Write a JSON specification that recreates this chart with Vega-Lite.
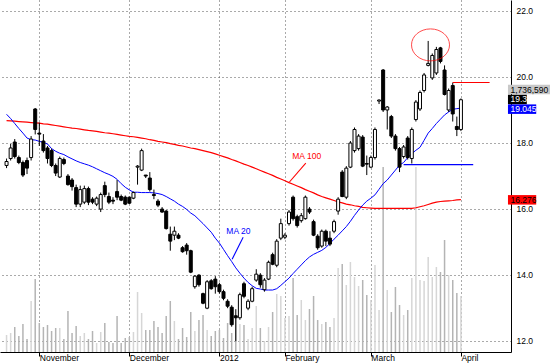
{
"$schema": "https://vega.github.io/schema/vega-lite/v6.json",
"width": 511, "height": 352,
"autosize": {"type": "none"},
"padding": {"left": 0, "top": 0, "right": 39, "bottom": 12},
"background": "white",
"config": {"view": {"stroke": null}, "font": "Liberation Sans"},
"datasets": {
"bars": [
{"i":-8,"o":17.31,"h":17.52,"l":17.23,"c":17.43,"v":527000,"m20":18.86,"m100":18.67},
{"i":-7,"o":17.52,"h":17.96,"l":17.46,"c":17.84,"v":589000,"m20":18.73,"m100":18.66},
{"i":-6,"o":18.02,"h":18.11,"l":17.52,"c":17.58,"v":775000,"m20":18.58,"m100":18.65},
{"i":-5,"o":17.55,"h":17.61,"l":17.35,"c":17.40,"v":496000,"m20":18.43,"m100":18.64},
{"i":-4,"o":17.40,"h":17.46,"l":16.96,"c":17.02,"v":868000,"m20":18.29,"m100":18.63},
{"i":-3,"o":17.46,"h":17.55,"l":17.05,"c":17.23,"v":403000,"m20":18.14,"m100":18.62},
{"i":-2,"o":17.55,"h":18.20,"l":17.46,"c":18.11,"v":1582000,"m20":18.09,"m100":18.61},
{"i":-1,"o":19.02,"h":19.05,"l":18.25,"c":18.40,"v":2264000,"m20":18.08,"m100":18.60},
{"i":0,"o":18.29,"h":18.61,"l":17.90,"c":18.26,"v":899000,"m20":18.04,"m100":18.59},
{"i":1,"o":18.05,"h":18.26,"l":17.70,"c":17.76,"v":775000,"m20":18.01,"m100":18.57},
{"i":2,"o":17.84,"h":17.90,"l":17.37,"c":17.52,"v":837000,"m20":17.96,"m100":18.56},
{"i":3,"o":17.76,"h":17.82,"l":17.26,"c":17.31,"v":651000,"m20":17.82,"m100":18.54},
{"i":4,"o":17.31,"h":17.37,"l":16.99,"c":17.08,"v":744000,"m20":17.74,"m100":18.52},
{"i":5,"o":16.96,"h":17.58,"l":16.93,"c":17.52,"v":744000,"m20":17.68,"m100":18.50},
{"i":6,"o":17.49,"h":17.55,"l":17.32,"c":17.37,"v":403000,"m20":17.64,"m100":18.48},
{"i":7,"o":16.99,"h":17.05,"l":16.70,"c":16.73,"v":1271000,"m20":17.57,"m100":18.46},
{"i":8,"o":16.87,"h":16.93,"l":16.55,"c":16.67,"v":589000,"m20":17.51,"m100":18.44},
{"i":9,"o":16.64,"h":16.73,"l":16.05,"c":16.14,"v":806000,"m20":17.45,"m100":18.43},
{"i":10,"o":16.14,"h":16.70,"l":16.05,"c":16.58,"v":496000,"m20":17.40,"m100":18.41},
{"i":11,"o":16.20,"h":16.70,"l":16.14,"c":16.61,"v":589000,"m20":17.36,"m100":18.39},
{"i":12,"o":16.61,"h":16.67,"l":16.11,"c":16.20,"v":403000,"m20":17.32,"m100":18.37},
{"i":13,"o":16.29,"h":16.35,"l":16.14,"c":16.20,"v":651000,"m20":17.27,"m100":18.36},
{"i":14,"o":16.14,"h":16.37,"l":16.08,"c":16.32,"v":279000,"m20":17.21,"m100":18.34},
{"i":15,"o":15.99,"h":16.49,"l":15.90,"c":16.43,"v":620000,"m20":17.15,"m100":18.32},
{"i":16,"o":16.70,"h":16.82,"l":16.35,"c":16.43,"v":899000,"m20":17.09,"m100":18.30},
{"i":17,"o":16.37,"h":16.49,"l":16.14,"c":16.20,"v":310000,"m20":17.04,"m100":18.29},
{"i":18,"o":16.26,"h":16.35,"l":16.14,"c":16.23,"v":279000,"m20":16.98,"m100":18.27},
{"i":19,"o":16.52,"h":16.87,"l":16.26,"c":16.35,"v":1116000,"m20":16.89,"m100":18.25},
{"i":20,"o":16.37,"h":16.43,"l":16.23,"c":16.26,"v":279000,"m20":16.76,"m100":18.23},
{"i":21,"o":16.35,"h":16.40,"l":16.11,"c":16.14,"v":434000,"m20":16.65,"m100":18.21},
{"i":22,"o":16.35,"h":16.37,"l":16.14,"c":16.17,"v":465000,"m20":16.57,"m100":18.19},
{"i":23,"o":16.32,"h":16.52,"l":16.29,"c":16.49,"v":620000,"m20":16.50,"m100":18.18},
{"i":24,"o":17.26,"h":17.32,"l":16.73,"c":17.29,"v":1861000,"m20":16.50,"m100":18.16},
{"i":25,"o":17.17,"h":17.82,"l":17.14,"c":17.76,"v":1209000,"m20":16.49,"m100":18.14},
{"i":26,"o":17.02,"h":17.02,"l":16.93,"c":16.99,"v":682000,"m20":16.49,"m100":18.12},
{"i":27,"o":16.93,"h":17.11,"l":16.52,"c":16.58,"v":682000,"m20":16.49,"m100":18.09},
{"i":28,"o":16.43,"h":16.58,"l":16.29,"c":16.40,"v":961000,"m20":16.48,"m100":18.07},
{"i":29,"o":16.23,"h":16.29,"l":16.05,"c":16.11,"v":775000,"m20":16.46,"m100":18.04},
{"i":30,"o":15.99,"h":16.05,"l":15.88,"c":15.90,"v":589000,"m20":16.43,"m100":18.02},
{"i":31,"o":15.93,"h":15.96,"l":15.37,"c":15.40,"v":1116000,"m20":16.37,"m100":18.00},
{"i":32,"o":15.23,"h":15.46,"l":14.73,"c":15.02,"v":1582000,"m20":16.30,"m100":17.97},
{"i":33,"o":15.20,"h":15.46,"l":15.05,"c":15.32,"v":961000,"m20":16.23,"m100":17.95},
{"i":34,"o":15.20,"h":15.26,"l":15.08,"c":15.11,"v":403000,"m20":16.14,"m100":17.92},
{"i":35,"o":14.82,"h":14.87,"l":14.67,"c":14.70,"v":744000,"m20":16.07,"m100":17.90},
{"i":36,"o":14.90,"h":14.96,"l":14.61,"c":14.73,"v":465000,"m20":15.98,"m100":17.87},
{"i":37,"o":14.73,"h":14.76,"l":14.05,"c":14.08,"v":1240000,"m20":15.87,"m100":17.84},
{"i":38,"o":13.64,"h":13.99,"l":13.58,"c":13.96,"v":651000,"m20":15.79,"m100":17.82},
{"i":39,"o":13.99,"h":14.02,"l":13.64,"c":13.70,"v":992000,"m20":15.67,"m100":17.79},
{"i":40,"o":13.43,"h":13.46,"l":13.11,"c":13.14,"v":1147000,"m20":15.55,"m100":17.76},
{"i":41,"o":12.99,"h":13.84,"l":12.96,"c":13.79,"v":682000,"m20":15.42,"m100":17.73},
{"i":42,"o":13.82,"h":13.87,"l":13.55,"c":13.58,"v":496000,"m20":15.29,"m100":17.70},
{"i":43,"o":13.87,"h":13.96,"l":13.43,"c":13.64,"v":651000,"m20":15.11,"m100":17.66},
{"i":44,"o":13.70,"h":13.76,"l":13.43,"c":13.49,"v":682000,"m20":14.96,"m100":17.62},
{"i":45,"o":13.49,"h":13.55,"l":13.23,"c":13.29,"v":434000,"m20":14.77,"m100":17.58},
{"i":46,"o":13.20,"h":13.26,"l":12.99,"c":13.05,"v":899000,"m20":14.58,"m100":17.54},
{"i":47,"o":13.02,"h":13.08,"l":12.43,"c":12.49,"v":589000,"m20":14.40,"m100":17.49},
{"i":48,"o":12.76,"h":12.96,"l":11.99,"c":12.70,"v":1054000,"m20":14.21,"m100":17.45},
{"i":49,"o":12.70,"h":13.46,"l":12.64,"c":13.40,"v":868000,"m20":14.05,"m100":17.40},
{"i":50,"o":13.73,"h":13.79,"l":13.29,"c":13.35,"v":837000,"m20":13.90,"m100":17.35},
{"i":51,"o":12.99,"h":13.26,"l":12.93,"c":13.20,"v":403000,"m20":13.77,"m100":17.31},
{"i":52,"o":13.20,"h":13.64,"l":13.17,"c":13.58,"v":744000,"m20":13.67,"m100":17.26},
{"i":53,"o":13.84,"h":14.17,"l":13.79,"c":14.02,"v":1427000,"m20":13.59,"m100":17.21},
{"i":54,"o":13.99,"h":14.05,"l":13.61,"c":13.70,"v":744000,"m20":13.57,"m100":17.16},
{"i":55,"o":13.55,"h":13.90,"l":13.49,"c":13.84,"v":341000,"m20":13.54,"m100":17.11},
{"i":56,"o":13.87,"h":14.43,"l":13.84,"c":14.38,"v":775000,"m20":13.54,"m100":17.06},
{"i":57,"o":14.61,"h":14.67,"l":14.29,"c":14.32,"v":1240000,"m20":13.54,"m100":17.01},
{"i":58,"o":14.29,"h":15.08,"l":14.23,"c":15.02,"v":1799000,"m20":13.58,"m100":16.95},
{"i":59,"o":15.11,"h":15.70,"l":15.05,"c":15.55,"v":1737000,"m20":13.68,"m100":16.90},
{"i":60,"o":15.14,"h":15.26,"l":15.08,"c":15.20,"v":1054000,"m20":13.79,"m100":16.85},
{"i":61,"o":15.55,"h":15.96,"l":15.49,"c":15.90,"v":1116000,"m20":13.90,"m100":16.79},
{"i":62,"o":16.35,"h":16.40,"l":15.64,"c":15.70,"v":2295000,"m20":14.04,"m100":16.74},
{"i":63,"o":15.76,"h":15.82,"l":15.43,"c":15.49,"v":1147000,"m20":14.17,"m100":16.69},
{"i":64,"o":15.64,"h":15.87,"l":15.58,"c":15.79,"v":1613000,"m20":14.30,"m100":16.64},
{"i":65,"o":15.70,"h":16.40,"l":15.67,"c":16.35,"v":992000,"m20":14.43,"m100":16.58},
{"i":66,"o":15.99,"h":16.05,"l":15.84,"c":15.90,"v":1333000,"m20":14.54,"m100":16.53},
{"i":67,"o":15.61,"h":15.67,"l":15.17,"c":15.20,"v":1737000,"m20":14.62,"m100":16.48},
{"i":68,"o":15.17,"h":15.23,"l":14.76,"c":14.82,"v":992000,"m20":14.68,"m100":16.42},
{"i":69,"o":14.87,"h":15.37,"l":14.82,"c":15.32,"v":868000,"m20":14.74,"m100":16.37},
{"i":70,"o":15.32,"h":15.37,"l":14.87,"c":15.02,"v":930000,"m20":14.83,"m100":16.33},
{"i":71,"o":15.11,"h":15.32,"l":14.87,"c":14.93,"v":775000,"m20":14.95,"m100":16.29},
{"i":72,"o":15.32,"h":15.67,"l":15.26,"c":15.61,"v":1054000,"m20":15.08,"m100":16.25},
{"i":73,"o":15.93,"h":16.35,"l":15.82,"c":16.29,"v":2605000,"m20":15.20,"m100":16.21},
{"i":74,"o":17.11,"h":17.17,"l":16.35,"c":16.37,"v":2729000,"m20":15.33,"m100":16.18},
{"i":75,"o":16.35,"h":17.29,"l":16.29,"c":17.23,"v":2078000,"m20":15.46,"m100":16.14},
{"i":76,"o":17.26,"h":18.05,"l":17.23,"c":17.99,"v":2791000,"m20":15.62,"m100":16.12},
{"i":77,"o":17.76,"h":18.46,"l":17.70,"c":18.40,"v":2326000,"m20":15.80,"m100":16.09},
{"i":78,"o":17.82,"h":18.26,"l":17.76,"c":18.20,"v":2047000,"m20":15.96,"m100":16.07},
{"i":79,"o":18.17,"h":18.23,"l":17.26,"c":17.29,"v":2233000,"m20":16.11,"m100":16.04},
{"i":80,"o":17.37,"h":17.61,"l":17.02,"c":17.35,"v":1768000,"m20":16.23,"m100":16.03},
{"i":81,"o":17.26,"h":17.61,"l":17.23,"c":17.55,"v":1613000,"m20":16.32,"m100":16.02},
{"i":82,"o":17.55,"h":18.46,"l":17.49,"c":18.40,"v":2698000,"m20":16.42,"m100":16.01},
{"i":83,"o":19.26,"h":19.31,"l":19.17,"c":19.29,"v":1302000,"m20":16.59,"m100":16.01},
{"i":84,"o":20.20,"h":20.23,"l":18.93,"c":18.99,"v":5737000,"m20":16.76,"m100":16.01},
{"i":85,"o":18.99,"h":19.11,"l":18.40,"c":19.08,"v":1923000,"m20":16.87,"m100":16.01},
{"i":86,"o":18.79,"h":18.84,"l":18.14,"c":18.20,"v":1240000,"m20":17.02,"m100":16.01},
{"i":87,"o":18.20,"h":18.26,"l":17.76,"c":17.82,"v":2016000,"m20":17.17,"m100":16.01},
{"i":88,"o":17.82,"h":17.87,"l":17.11,"c":17.26,"v":1458000,"m20":17.32,"m100":16.01},
{"i":89,"o":17.58,"h":17.93,"l":17.52,"c":17.87,"v":1147000,"m20":17.40,"m100":16.01},
{"i":90,"o":18.14,"h":18.20,"l":17.49,"c":17.55,"v":1302000,"m20":17.55,"m100":16.01},
{"i":91,"o":17.52,"h":18.46,"l":17.37,"c":18.40,"v":2295000,"m20":17.67,"m100":16.01},
{"i":92,"o":18.70,"h":19.29,"l":18.64,"c":19.23,"v":5737000,"m20":17.77,"m100":16.03},
{"i":93,"o":19.02,"h":19.58,"l":18.96,"c":19.52,"v":2233000,"m20":17.86,"m100":16.06},
{"i":94,"o":19.58,"h":20.11,"l":19.52,"c":20.05,"v":2202000,"m20":18.07,"m100":16.09},
{"i":95,"o":20.34,"h":21.08,"l":20.31,"c":20.40,"v":2946000,"m20":18.29,"m100":16.13},
{"i":96,"o":19.96,"h":20.70,"l":19.90,"c":20.64,"v":2326000,"m20":18.43,"m100":16.17},
{"i":97,"o":20.11,"h":20.90,"l":20.05,"c":20.82,"v":2636000,"m20":18.58,"m100":16.20},
{"i":98,"o":20.87,"h":20.90,"l":20.40,"c":20.46,"v":2481000,"m20":18.71,"m100":16.22},
{"i":99,"o":20.20,"h":20.34,"l":19.43,"c":19.46,"v":3473000,"m20":18.84,"m100":16.23},
{"i":100,"o":18.99,"h":19.64,"l":18.93,"c":19.58,"v":2388000,"m20":18.93,"m100":16.24},
{"i":101,"o":19.73,"h":19.82,"l":18.64,"c":18.87,"v":2233000,"m20":19.01,"m100":16.25},
{"i":102,"o":18.49,"h":18.79,"l":18.20,"c":18.40,"v":1830000,"m20":19.03,"m100":16.27},
{"i":103,"o":18.40,"h":19.34,"l":18.35,"c":19.30,"v":1736590,"m20":19.045,"m100":16.276}
],
"tags": [
{"label":"1,736,590","pos":19.61,"kind":"volume"},
{"label":"19.3","pos":19.31,"kind":"close"},
{"label":"19.045","pos":19.015,"kind":"ma20"},
{"label":"16.276","pos":16.27,"kind":"ma100"}
],
"segs": [
{"i":101,"i2":110,"p":19.82,"q":19.82,"kind":"ma100"},
{"i":89,"i2":106,"p":17.335,"q":17.335,"kind":"ma20"},
{"i":65.1,"i2":61.1,"p":17.38,"q":16.81,"kind":"ma100"},
{"i":49.8,"i2":47.1,"p":15.14,"q":14.47,"kind":"ma20"}
],
"notes": [
{"i":61.8,"p":17.61,"label":"MA 100","kind":"ma100"},
{"i":45.7,"p":15.34,"label":"MA 20","kind":"ma20"}
],
"ring": [{"i":95.57,"p":20.96}]
},
"encoding": {
"x": {"field": "i", "type": "quantitative",
"scale": {"domain": [-8.38, 114.01], "nice": false, "zero": false},
"axis": {"title": null, "orient": "bottom", "values": [0, 22, 44, 60, 81, 103],
"labelExpr": "datum.value == 0 ? 'November' : datum.value == 22 ? 'December' : datum.value == 44 ? '2012' : datum.value == 60 ? 'February' : datum.value == 81 ? 'March' : 'April'",
"labelAlign": "left", "labelDx": 1.5, "labelBaseline": "top", "labelPadding": -3,
"labelFontSize": 8.5, "labelColor": "#000000", "labelOverlap": false, "labelFlush": false,
"tickSize": 4, "tickColor": "#000000", "domainColor": "#000000",
"grid": true, "gridDash": [1, 3], "gridColor": "#555555", "gridWidth": 1}}
},
"layer": [
{
"data": {"name": "bars"},
"mark": {"type": "bar", "size": 1.5},
"encoding": {
"y": {"field": "v", "type": "quantitative", "scale": {"domain": [0, 10916000], "nice": false, "zero": true}, "axis": null},
"color": {"condition": {"test": "datum.c < datum.o", "value": "#b4b4b4"}, "value": "#d6d6d6"}
}
},
{
"layer": [
{
"data": {"name": "bars"},
"mark": {"type": "line", "color": "#ff0000", "strokeWidth": 1.2},
"encoding": {
"y": {"field": "m100", "type": "quantitative",
"scale": {"domain": [11.815, 22.168], "nice": false, "zero": false},
"axis": {"title": null, "orient": "right", "values": [12, 14, 16, 18, 20, 22], "format": ".1f",
"ticks": false, "labelPadding": 5, "labelFontSize": 8.5, "labelColor": "#000000",
"domainColor": "#000000", "grid": true, "gridDash": [1, 3], "gridColor": "#555555"}}
}
},
{
"data": {"name": "bars"},
"mark": {"type": "line", "color": "#0000ff", "strokeWidth": 1},
"encoding": {
"y": {"field": "m20", "type": "quantitative", "axis": {"title": null}}
}
},
{
"data": {"name": "bars"},
"mark": {"type": "rule", "color": "#000000", "strokeWidth": 1},
"encoding": {
"y": {"field": "l", "type": "quantitative", "axis": {"title": null}},
"y2": {"field": "h"}
}
},
{
"data": {"name": "bars"},
"mark": {"type": "bar", "size": 3, "stroke": "#000000", "strokeWidth": 1},
"encoding": {
"y": {"field": "o", "type": "quantitative", "axis": {"title": null}},
"y2": {"field": "c"},
"fill": {"condition": {"test": "datum.c < datum.o", "value": "#000000"}, "value": "#ffffff"}
}
},
{
"data": {"name": "segs"},
"mark": {"type": "rule", "strokeWidth": 1.1},
"encoding": {
"x2": {"field": "i2"},
"y": {"field": "p", "type": "quantitative", "axis": {"title": null}},
"y2": {"field": "q"},
"color": {"field": "kind", "type": "nominal", "legend": null,
"scale": {"domain": ["ma100", "ma20", "volume", "close"], "range": ["#ff0000", "#0000ff", "#c8c8c8", "#000000"]}}
}
},
{
"data": {"name": "notes"},
"mark": {"type": "text", "align": "left", "baseline": "middle", "fontSize": 8.5},
"encoding": {
"y": {"field": "p", "type": "quantitative", "axis": {"title": null}},
"text": {"field": "label"},
"color": {"field": "kind", "type": "nominal", "legend": null,
"scale": {"domain": ["ma100", "ma20", "volume", "close"], "range": ["#ff0000", "#0000ff", "#c8c8c8", "#000000"]}}
}
},
{
"data": {"name": "ring"},
"mark": {"type": "point", "filled": false, "stroke": "#ff0000", "strokeWidth": 1, "size": 1444,
"shape": "M -1 0 C -1 -0.465 -0.552 -0.842 0 -0.842 C 0.552 -0.842 1 -0.465 1 0 C 1 0.465 0.552 0.842 0 0.842 C -0.552 0.842 -1 0.465 -1 0 Z"},
"encoding": {
"y": {"field": "p", "type": "quantitative", "axis": {"title": null}}
}
},
{
"data": {"name": "tags"},
"transform": [{"calculate": "114.49", "as": "i"}, {"calculate": "114.49 + length(datum.label) * 1.15", "as": "i2"}],
"mark": {"type": "bar", "orient": "horizontal", "size": 9.5},
"encoding": {
"x2": {"field": "i2"},
"y": {"field": "pos", "type": "quantitative", "axis": {"title": null}},
"color": {"field": "kind", "type": "nominal", "legend": null,
"scale": {"domain": ["ma100", "ma20", "volume", "close"], "range": ["#ff0000", "#0000ff", "#c8c8c8", "#000000"]}}
}
},
{
"data": {"name": "tags"},
"transform": [{"calculate": "114.49", "as": "i"}],
"mark": {"type": "text", "align": "left", "baseline": "middle", "dx": 2.5, "fontSize": 8.5},
"encoding": {
"y": {"field": "pos", "type": "quantitative", "axis": {"title": null}},
"text": {"field": "label"},
"color": {"condition": {"test": "datum.kind == 'close' || datum.kind == 'ma20'", "value": "#ffffff"}, "value": "#000000"}
}
}
]
}
],
"resolve": {"scale": {"y": "independent"}}
}
